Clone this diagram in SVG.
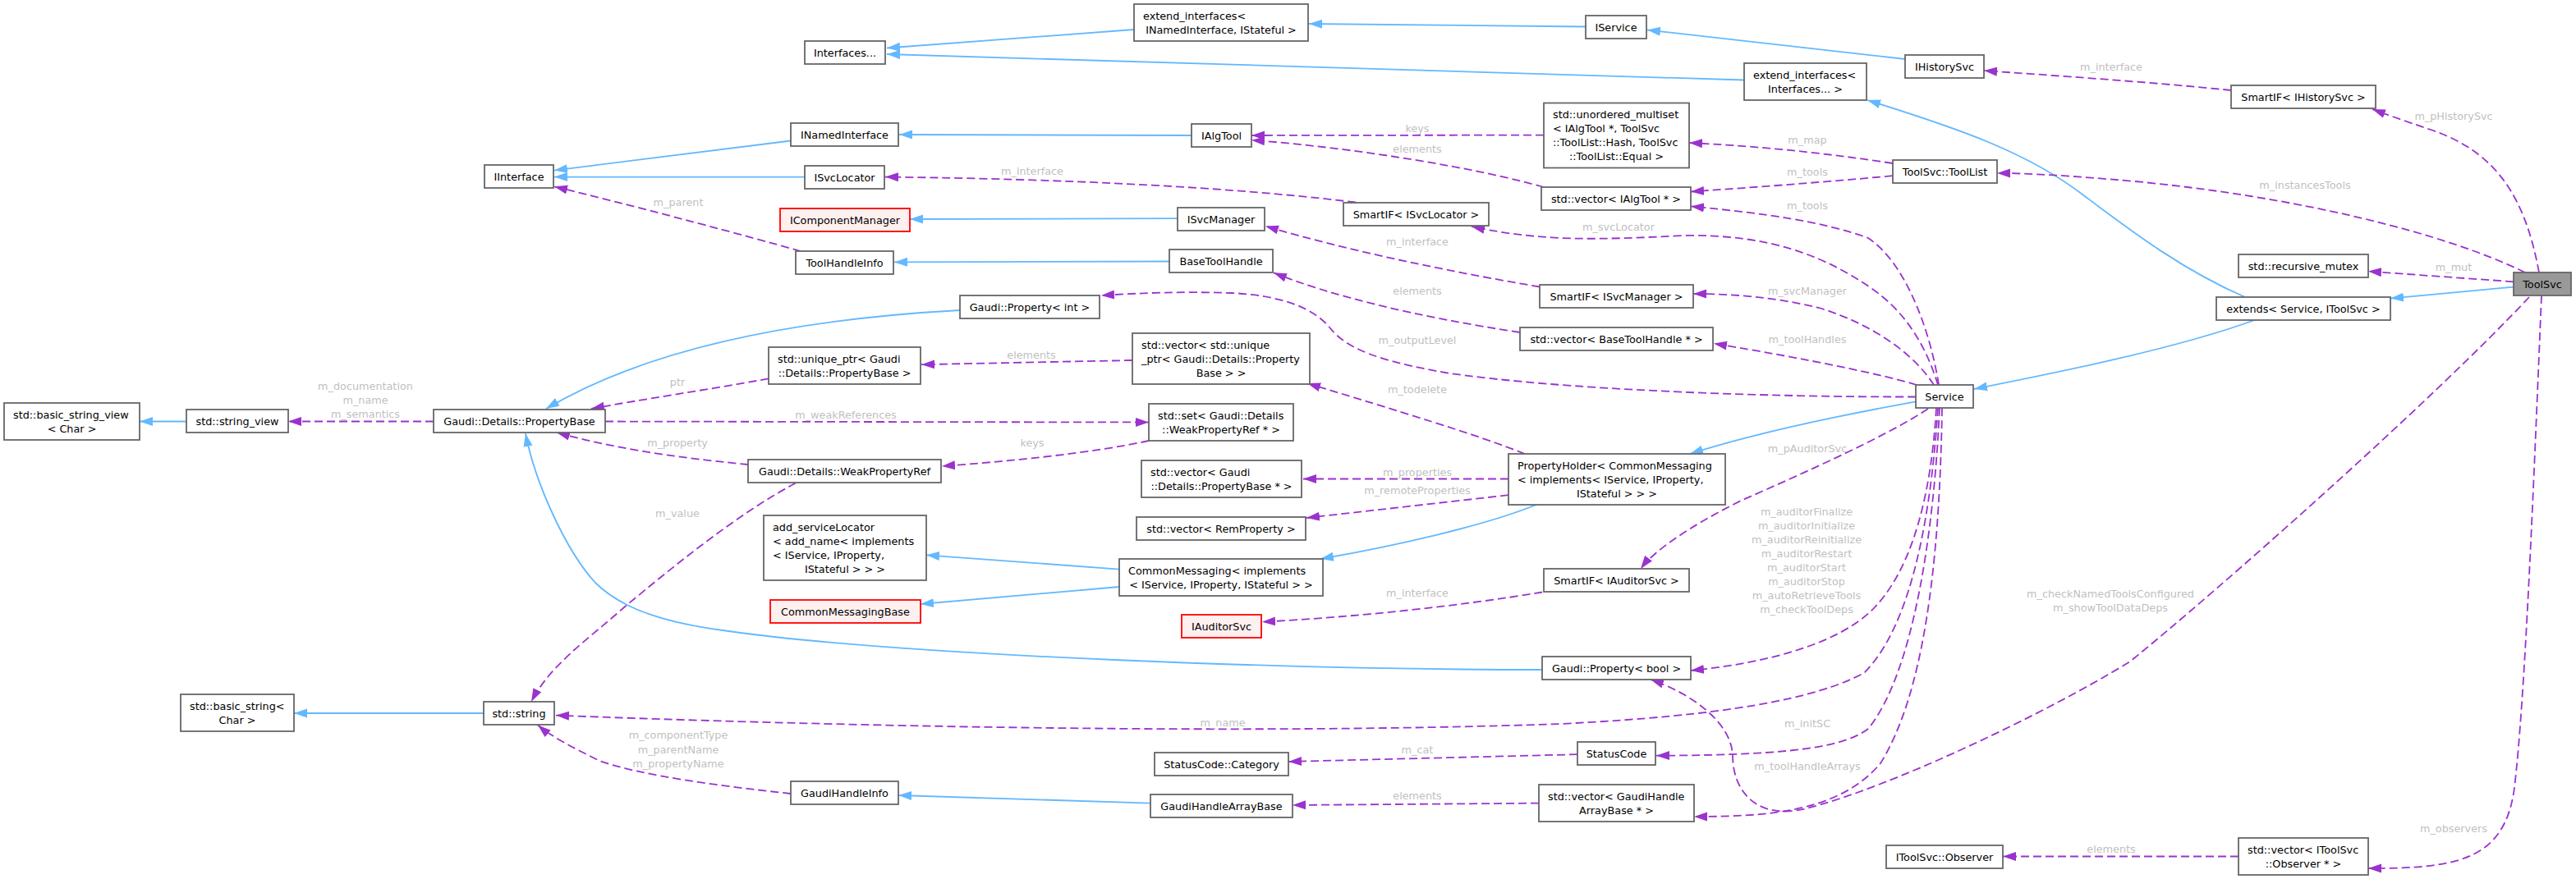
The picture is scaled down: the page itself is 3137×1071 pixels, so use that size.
<svg xmlns="http://www.w3.org/2000/svg" width="3137" height="1071" viewBox="0 0 3137 1071">
<style>
.nd rect{fill:#ffffff;stroke:#666666;stroke-width:1.8}
.red rect{fill:#fff0f0;stroke:#ff0000}
.cur rect{fill:#999999;stroke:#666666}
text{font-family:'DejaVu Sans','Liberation Sans',sans-serif;font-size:12.8px}
.nd text{fill:#000000}
.c{text-anchor:middle}
.l{text-anchor:start}
.inh{fill:none;stroke:#63b8ff;stroke-width:1.8;marker-end:url(#ab)}
.use{fill:none;stroke:#9a32cd;stroke-width:1.8;stroke-dasharray:10,5;marker-end:url(#ap)}
.lb text{fill:#bfbfbf;text-anchor:middle}
</style>
<defs>
<marker id="ab" markerUnits="userSpaceOnUse" markerWidth="16" markerHeight="12" viewBox="0 0 16 12" refX="16" refY="6" orient="auto"><path d="M0,0.5 L16,6 L0,11.5 z" fill="#63b8ff"/></marker>
<marker id="ap" markerUnits="userSpaceOnUse" markerWidth="16" markerHeight="12" viewBox="0 0 16 12" refX="16" refY="6" orient="auto"><path d="M0,0.5 L16,6 L0,11.5 z" fill="#9a32cd"/></marker>
</defs>
<rect x="0" y="0" width="3137" height="1071" fill="#ffffff"/>
<g id="edges">
<path class="inh" d="M1381,36 L1080,58.5"/>
<path class="inh" d="M2124,97.5 L1080,66"/>
<path class="inh" d="M1931,32.5 L1594,29"/>
<path class="inh" d="M2320,72 L2006,36.5"/>
<path class="inh" d="M963,171.5 L675,207.6"/>
<path class="inh" d="M980,215.6 L675,215.6"/>
<path class="inh" d="M1451,165 L1095,164"/>
<path class="inh" d="M1434,266.2 L1108,267"/>
<path class="inh" d="M1424,318.5 L1089,319.4"/>
<path class="inh" d="M1169,378 C950,390 780,430 665,498"/>
<path class="inh" d="M1878,816 C1600,816 1100,800 880,768 C820,760 760,745 725,710 C690,672 652,590 640,528"/>
<path class="inh" d="M2734,362 C2660,330 2600,285 2540,240 C2470,185 2380,155 2274,122"/>
<path class="inh" d="M2747,389.5 C2650,425 2500,455 2404,474"/>
<path class="inh" d="M3061,349.6 L2911,363.6"/>
<path class="inh" d="M2333,489.3 C2230,508 2130,530 2058,553"/>
<path class="inh" d="M1872,614.5 C1810,640 1700,665 1608,681"/>
<path class="inh" d="M1363,693.6 L1128,676.3"/>
<path class="inh" d="M1363,715 L1121,736"/>
<path class="inh" d="M589,869 L358,869"/>
<path class="inh" d="M227,513.5 L170,513.5"/>
<path class="inh" d="M1401,978.6 L1094,969"/>

<path class="use" d="M2717,110 C2620,100 2500,92 2416,86"/>
<path class="use" d="M3092,332 C3075,240 3040,185 2960,158 C2930,148 2905,139 2889,133"/>
<path class="use" d="M3075,332 C2980,285 2800,240 2600,221 C2520,214 2470,211 2432,211"/>
<path class="use" d="M3061,343.3 L2884,330.6"/>
<path class="use" d="M3095,360 C3085,600 3075,850 3062,960 C3050,1050 2990,1058 2884,1058"/>
<path class="use" d="M3080,362 C2960,490 2700,720 2594,806 C2490,870 2300,960 2200,985 C2140,1000 2110,965 2110,920 C2108,880 2060,845 2010,828"/>
<path class="use" d="M2360,497 C2352,620 2330,760 2270,820 C2210,852 2100,872 1900,882 C1500,896 1000,884 677,871.6"/>
<path class="use" d="M2358,497 C2352,600 2330,690 2283,740 C2240,785 2150,808 2059,817"/>
<path class="use" d="M2362,497 C2355,650 2330,820 2275,888 C2240,915 2150,920 2017,920.7"/>
<path class="use" d="M2365,497 C2362,700 2340,850 2290,930 C2240,990 2150,995 2063,995"/>
<path class="use" d="M2348,498 C2300,530 2200,575 2120,610 C2060,640 2015,670 1998,693"/>
<path class="use" d="M2361,469 C2350,400 2320,320 2275,290 C2220,270 2150,260 2059,251.4"/>
<path class="use" d="M2360,469 C2345,420 2320,380 2280,352 C2220,310 2150,285 2050,287 C1950,292 1880,295 1792,276"/>
<path class="use" d="M2355,469 C2330,430 2280,395 2215,375 C2160,362 2110,358 2062,358"/>
<path class="use" d="M2334,469 C2300,458 2200,437 2087,418.5"/>
<path class="use" d="M2333,483.5 C2150,484 1900,475 1760,454 C1680,440 1640,425 1620,400 C1600,375 1560,360 1500,357 C1440,355 1390,357 1341,360"/>
<path class="use" d="M2305,199 C2220,186 2140,178 2057,174"/>
<path class="use" d="M2305,214.2 C2220,222 2140,228 2059,233.5"/>
<path class="use" d="M1880,164.6 L1524,165"/>
<path class="use" d="M1880,228 C1800,205 1650,180 1524,170.7"/>
<path class="use" d="M1651,246.5 C1500,228 1300,218 1078,215.6"/>
<path class="use" d="M1875,349.5 C1760,330 1640,305 1541,275.5"/>
<path class="use" d="M1851,405 C1720,385 1620,360 1551,332.3"/>
<path class="use" d="M1379,439 L1122,444.2"/>
<path class="use" d="M936,461.4 C860,475 780,487 720,498"/>
<path class="use" d="M737,513.5 L1399,514.5"/>
<path class="use" d="M1399,537 C1330,552 1230,562 1147,568"/>
<path class="use" d="M911,566 C850,560 760,550 678,527"/>
<path class="use" d="M969,588.5 C900,625 820,690 760,740 C715,780 670,810 647,855"/>
<path class="use" d="M963,967 C880,958 780,945 730,927 C700,912 672,898 655,883.5"/>
<path class="use" d="M528,513.5 L351,513.5"/>
<path class="use" d="M975,306 C900,285 800,258 675,227.3"/>
<path class="use" d="M1921,919.2 L1569,928"/>
<path class="use" d="M1874,978.6 L1574,981"/>
<path class="use" d="M1878,721.5 C1780,738 1650,752 1537,757.7"/>
<path class="use" d="M2726,1043.5 L2439,1043.5"/>
<path class="use" d="M1857,553 C1800,530 1700,500 1592,467"/>
<path class="use" d="M1837,583.5 L1587,583.5"/>
<path class="use" d="M1837,603.2 L1591,631"/>
</g>
<g id="edge-labels" class="lb">
<text x="445" y="474.5">m_documentation</text>
<text x="445" y="492">m_name</text>
<text x="445" y="509.3">m_semantics</text>
<text x="826" y="250.5">m_parent</text>
<text x="825" y="469.5">ptr</text>
<text x="1030" y="510">m_weakReferences</text>
<text x="825" y="543.5">m_property</text>
<text x="825" y="629.5">m_value</text>
<text x="826" y="900.3">m_componentType</text>
<text x="826" y="917.5">m_parentName</text>
<text x="826" y="934.8">m_propertyName</text>
<text x="1257" y="212.8">m_interface</text>
<text x="1256" y="437">elements</text>
<text x="1257" y="543.5">keys</text>
<text x="1489" y="884.5">m_name</text>
<text x="1726" y="161.2">keys</text>
<text x="1726" y="186">elements</text>
<text x="1726" y="298.9">m_interface</text>
<text x="1726" y="359.2">elements</text>
<text x="1726" y="418.8">m_outputLevel</text>
<text x="1726" y="479">m_todelete</text>
<text x="1726" y="579.5">m_properties</text>
<text x="1726" y="602.1">m_remoteProperties</text>
<text x="1726" y="727">m_interface</text>
<text x="1726" y="918.2">m_cat</text>
<text x="1726" y="974.1">elements</text>
<text x="1971" y="281">m_svcLocator</text>
<text x="2201" y="175.3">m_map</text>
<text x="2201" y="213.9">m_tools</text>
<text x="2201" y="255.2">m_tools</text>
<text x="2201" y="359.2">m_svcManager</text>
<text x="2201" y="417.5">m_toolHandles</text>
<text x="2201" y="551.1">m_pAuditorSvc</text>
<text x="2200" y="628">m_auditorFinalize</text>
<text x="2200" y="645">m_auditorInitialize</text>
<text x="2200" y="662">m_auditorReinitialize</text>
<text x="2200" y="679">m_auditorRestart</text>
<text x="2200" y="696">m_auditorStart</text>
<text x="2200" y="713">m_auditorStop</text>
<text x="2200" y="730">m_autoRetrieveTools</text>
<text x="2200" y="747">m_checkToolDeps</text>
<text x="2201" y="886.1">m_initSC</text>
<text x="2201" y="938.2">m_toolHandleArrays</text>
<text x="2571" y="86.1">m_interface</text>
<text x="2570" y="728.1">m_checkNamedToolsConfigured</text>
<text x="2570" y="745.3">m_showToolDataDeps</text>
<text x="2571" y="1039">elements</text>
<text x="2807" y="230">m_instancesTools</text>
<text x="2988" y="146">m_pHistorySvc</text>
<text x="2988" y="329.9">m_mut</text>
<text x="2988" y="1014.1">m_observers</text>
</g>
<g id="node-ToolSvc" class="nd cur"><rect x="3061" y="332" width="70" height="28"/><text class="c" x="3096" y="350.5">ToolSvc</text></g>
<g id="node-extends" class="nd"><rect x="2699" y="362" width="212" height="28"/><text class="c" x="2805" y="380.5">extends&lt; Service, IToolSvc &gt;</text></g>
<g id="node-Service" class="nd"><rect x="2333" y="469" width="70" height="28"/><text class="c" x="2368" y="487.5">Service</text></g>
<g id="node-PropertyHolder" class="nd"><rect x="1837" y="553" width="264" height="62"/><text class="l" x="1848" y="571.5">PropertyHolder&lt; CommonMessaging</text><text class="l" x="1848" y="588.5">&lt; implements&lt; IService, IProperty,</text><text class="c" x="1969" y="605.5">IStateful &gt; &gt; &gt;</text></g>
<g id="node-CommonMessaging" class="nd"><rect x="1363" y="681" width="248" height="45"/><text class="l" x="1374" y="699.5">CommonMessaging&lt; implements</text><text class="c" x="1487" y="716.5">&lt; IService, IProperty, IStateful &gt; &gt;</text></g>
<g id="node-add_serviceLocator" class="nd"><rect x="930" y="628" width="198" height="79"/><text class="l" x="941" y="646.5">add_serviceLocator</text><text class="l" x="941" y="663.5">&lt; add_name&lt; implements</text><text class="l" x="941" y="680.5">&lt; IService, IProperty,</text><text class="c" x="1029" y="697.5">IStateful &gt; &gt; &gt;</text></g>
<g id="node-CommonMessagingBase" class="nd red"><rect x="938" y="731" width="183" height="28"/><text class="c" x="1029.5" y="749.5">CommonMessagingBase</text></g>
<g id="node-IAuditorSvc" class="nd red"><rect x="1439" y="749" width="97" height="28"/><text class="c" x="1487.5" y="767.5">IAuditorSvc</text></g>
<g id="node-IComponentManager" class="nd red"><rect x="950" y="254" width="158" height="28"/><text class="c" x="1029" y="272.5">IComponentManager</text></g>
<g id="node-extend_interfaces_Interfaces" class="nd"><rect x="2124" y="77" width="149" height="45"/><text class="l" x="2135" y="95.5">extend_interfaces&lt;</text><text class="c" x="2198.5" y="112.5">Interfaces... &gt;</text></g>
<g id="node-extend_interfaces_INamedInterface" class="nd"><rect x="1381" y="5" width="212" height="45"/><text class="l" x="1392" y="23.5">extend_interfaces&lt;</text><text class="c" x="1487" y="40.5">INamedInterface, IStateful &gt;</text></g>
<g id="node-Interfaces" class="nd"><rect x="980" y="50" width="98" height="28"/><text class="c" x="1029" y="68.5">Interfaces...</text></g>
<g id="node-IService" class="nd"><rect x="1931" y="19" width="74" height="28"/><text class="c" x="1968" y="37.5">IService</text></g>
<g id="node-IHistorySvc" class="nd"><rect x="2320" y="67" width="96" height="28"/><text class="c" x="2368" y="85.5">IHistorySvc</text></g>
<g id="node-SmartIF_IHistorySvc" class="nd"><rect x="2717" y="104" width="176" height="28"/><text class="c" x="2805" y="122.5">SmartIF&lt; IHistorySvc &gt;</text></g>
<g id="node-ToolList" class="nd"><rect x="2305" y="195" width="127" height="28"/><text class="c" x="2368.5" y="213.5">ToolSvc::ToolList</text></g>
<g id="node-unordered_multiset" class="nd"><rect x="1880" y="125.5" width="177" height="79"/><text class="l" x="1891" y="144">std::unordered_multiset</text><text class="l" x="1891" y="161">&lt; IAlgTool *, ToolSvc</text><text class="l" x="1891" y="178">::ToolList::Hash, ToolSvc</text><text class="c" x="1968.5" y="195">::ToolList::Equal &gt;</text></g>
<g id="node-vector_IAlgTool" class="nd"><rect x="1877" y="228" width="182" height="28"/><text class="c" x="1968" y="246.5">std::vector&lt; IAlgTool * &gt;</text></g>
<g id="node-IAlgTool" class="nd"><rect x="1451" y="151" width="73" height="28"/><text class="c" x="1487.5" y="169.5">IAlgTool</text></g>
<g id="node-INamedInterface" class="nd"><rect x="963" y="150" width="131" height="28"/><text class="c" x="1028.5" y="168.5">INamedInterface</text></g>
<g id="node-IInterface" class="nd"><rect x="590" y="201" width="84" height="28"/><text class="c" x="632" y="219.5">IInterface</text></g>
<g id="node-ISvcLocator" class="nd"><rect x="980" y="202" width="97" height="28"/><text class="c" x="1028.5" y="220.5">ISvcLocator</text></g>
<g id="node-SmartIF_ISvcLocator" class="nd"><rect x="1636" y="247" width="177" height="28"/><text class="c" x="1724.5" y="265.5">SmartIF&lt; ISvcLocator &gt;</text></g>
<g id="node-ISvcManager" class="nd"><rect x="1434" y="253" width="106" height="28"/><text class="c" x="1487" y="271.5">ISvcManager</text></g>
<g id="node-SmartIF_ISvcManager" class="nd"><rect x="1875" y="347" width="187" height="28"/><text class="c" x="1968.5" y="365.5">SmartIF&lt; ISvcManager &gt;</text></g>
<g id="node-BaseToolHandle" class="nd"><rect x="1424" y="304" width="126" height="28"/><text class="c" x="1487" y="322.5">BaseToolHandle</text></g>
<g id="node-ToolHandleInfo" class="nd"><rect x="969" y="306" width="119" height="28"/><text class="c" x="1028.5" y="324.5">ToolHandleInfo</text></g>
<g id="node-vector_BaseToolHandle" class="nd"><rect x="1851" y="399" width="235" height="28"/><text class="c" x="1968.5" y="417.5">std::vector&lt; BaseToolHandle * &gt;</text></g>
<g id="node-Property_int" class="nd"><rect x="1169" y="360" width="170" height="28"/><text class="c" x="1254" y="378.5">Gaudi::Property&lt; int &gt;</text></g>
<g id="node-vector_unique_ptr" class="nd"><rect x="1379" y="406" width="216" height="62"/><text class="l" x="1390" y="424.5">std::vector&lt; std::unique</text><text class="l" x="1390" y="441.5">_ptr&lt; Gaudi::Details::Property</text><text class="c" x="1487" y="458.5">Base &gt; &gt;</text></g>
<g id="node-unique_ptr" class="nd"><rect x="936" y="423" width="185" height="45"/><text class="l" x="947" y="441.5">std::unique_ptr&lt; Gaudi</text><text class="c" x="1028.5" y="458.5">::Details::PropertyBase &gt;</text></g>
<g id="node-PropertyBase" class="nd"><rect x="528" y="499" width="209" height="28"/><text class="c" x="632.5" y="517.5">Gaudi::Details::PropertyBase</text></g>
<g id="node-string_view" class="nd"><rect x="227" y="499" width="124" height="28"/><text class="c" x="289" y="517.5">std::string_view</text></g>
<g id="node-basic_string_view" class="nd"><rect x="5" y="491" width="165" height="45"/><text class="l" x="16" y="509.5">std::basic_string_view</text><text class="c" x="87.5" y="526.5">&lt; Char &gt;</text></g>
<g id="node-set_WeakPropertyRef" class="nd"><rect x="1399" y="492" width="176" height="45"/><text class="l" x="1410" y="510.5">std::set&lt; Gaudi::Details</text><text class="c" x="1487" y="527.5">::WeakPropertyRef * &gt;</text></g>
<g id="node-WeakPropertyRef" class="nd"><rect x="911" y="560" width="235" height="28"/><text class="c" x="1028.5" y="578.5">Gaudi::Details::WeakPropertyRef</text></g>
<g id="node-vector_PropertyBase" class="nd"><rect x="1390" y="561" width="195" height="45"/><text class="l" x="1401" y="579.5">std::vector&lt; Gaudi</text><text class="c" x="1487.5" y="596.5">::Details::PropertyBase * &gt;</text></g>
<g id="node-vector_RemProperty" class="nd"><rect x="1384" y="630" width="206" height="28"/><text class="c" x="1487" y="648.5">std::vector&lt; RemProperty &gt;</text></g>
<g id="node-SmartIF_IAuditorSvc" class="nd"><rect x="1880" y="693" width="177" height="28"/><text class="c" x="1968.5" y="711.5">SmartIF&lt; IAuditorSvc &gt;</text></g>
<g id="node-Property_bool" class="nd"><rect x="1878" y="800" width="181" height="28"/><text class="c" x="1968.5" y="818.5">Gaudi::Property&lt; bool &gt;</text></g>
<g id="node-basic_string" class="nd"><rect x="220" y="846" width="138" height="45"/><text class="l" x="231" y="864.5">std::basic_string&lt;</text><text class="c" x="289" y="881.5">Char &gt;</text></g>
<g id="node-string" class="nd"><rect x="589" y="855" width="86" height="28"/><text class="c" x="632" y="873.5">std::string</text></g>
<g id="node-StatusCode_Category" class="nd"><rect x="1406" y="917" width="163" height="28"/><text class="c" x="1487.5" y="935.5">StatusCode::Category</text></g>
<g id="node-StatusCode" class="nd"><rect x="1921" y="904" width="95" height="28"/><text class="c" x="1968.5" y="922.5">StatusCode</text></g>
<g id="node-GaudiHandleInfo" class="nd"><rect x="963" y="952" width="131" height="28"/><text class="c" x="1028.5" y="970.5">GaudiHandleInfo</text></g>
<g id="node-GaudiHandleArrayBase" class="nd"><rect x="1401" y="968" width="173" height="28"/><text class="c" x="1487.5" y="986.5">GaudiHandleArrayBase</text></g>
<g id="node-vector_GaudiHandleArrayBase" class="nd"><rect x="1874" y="956" width="189" height="45"/><text class="l" x="1885" y="974.5">std::vector&lt; GaudiHandle</text><text class="c" x="1968.5" y="991.5">ArrayBase * &gt;</text></g>
<g id="node-Observer" class="nd"><rect x="2297" y="1030" width="142" height="28"/><text class="c" x="2368" y="1048.5">IToolSvc::Observer</text></g>
<g id="node-vector_Observer" class="nd"><rect x="2726" y="1021" width="158" height="45"/><text class="l" x="2737" y="1039.5">std::vector&lt; IToolSvc</text><text class="c" x="2805" y="1056.5">::Observer * &gt;</text></g>
<g id="node-recursive_mutex" class="nd"><rect x="2726" y="310" width="158" height="28"/><text class="c" x="2805" y="328.5">std::recursive_mutex</text></g>
</svg>
